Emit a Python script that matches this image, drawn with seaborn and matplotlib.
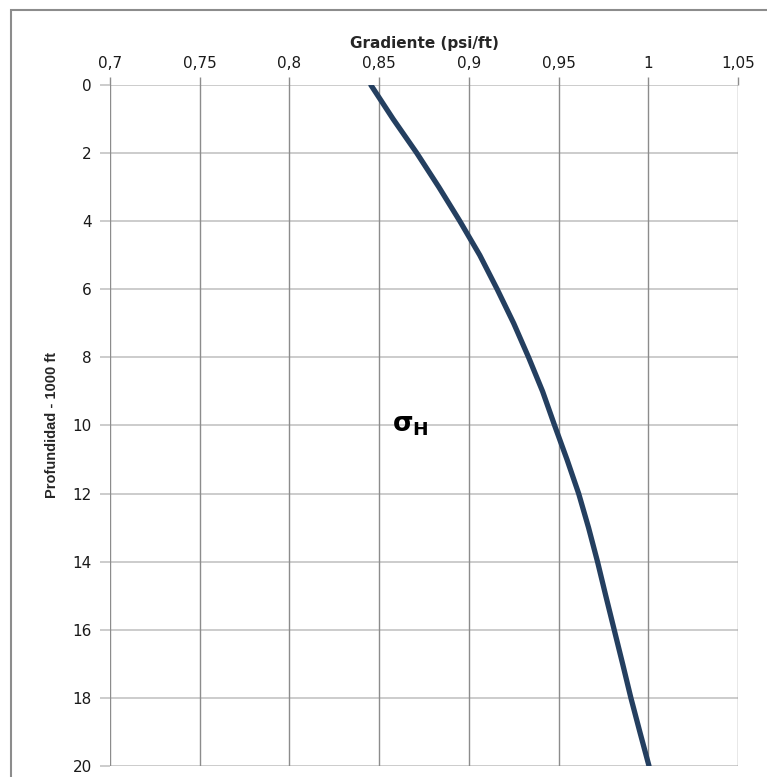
import numpy as np
import pandas as pd
import matplotlib
matplotlib.use('Agg')
import matplotlib.pyplot as plt
import matplotlib.patches as patches
from matplotlib.ticker import FuncFormatter
import seaborn as sns

# data (depth in 1000 ft, gradient in psi/ft)
depth = [0, 1, 2, 3, 4, 5, 6, 7, 8, 9, 10, 11, 12, 13, 14, 15, 16, 17, 18, 19, 20]
gradient = [0.8454, 0.8578, 0.8710, 0.8833, 0.8950, 0.9061, 0.9158, 0.9250, 0.9333,
            0.9411, 0.9478, 0.9547, 0.9612, 0.9667, 0.9717, 0.9763, 0.9810, 0.9857,
            0.9903, 0.9953, 1.0004]
x_ticks = [0.7, 0.75, 0.8, 0.85, 0.9, 0.95, 1.0, 1.05]
y_ticks = [0, 2, 4, 6, 8, 10, 12, 14, 16, 18, 20]

sns.set_style('white')
plt.rcParams['font.family'] = ['DejaVu Sans']
plt.rcParams['mathtext.fontset'] = 'dejavusans'

df = pd.DataFrame({'Gradiente': gradient, 'Profundidad': depth})

fig = plt.figure(figsize=(7.67, 7.77), dpi=100)
ax = fig.add_axes([0.1434, 0.0142, 0.8188, 0.8764])

sns.lineplot(data=df, x='Gradiente', y='Profundidad', sort=False, estimator=None,
             color='#243f60', linewidth=3.8, ax=ax)
for ln in ax.lines:
    ln.set_solid_joinstyle('round')

ax.set_xlim(0.7, 1.05)
ax.set_ylim(20, 0)
ax.set_xticks(x_ticks)
ax.set_yticks(y_ticks)
ax.xaxis.set_major_formatter(FuncFormatter(lambda v, p: ('%g' % round(v, 2)).replace('.', ',')))
ax.xaxis.tick_top()
ax.xaxis.set_label_position('top')

# gridlines: vertical darker, horizontal lighter
for yv in y_ticks:
    ax.axhline(yv, color='#c4c4c4', lw=1.2, zorder=0)
for xv in x_ticks:
    ax.axvline(xv, color='#8c8c8c', lw=1, zorder=0.5)

for s in ax.spines.values():
    s.set_visible(False)

ax.tick_params(axis='x', which='major', top=True, bottom=False, length=6, width=1,
               color='#8c8c8c', labelsize=11, labelcolor='#1a1a1a', pad=4)
ax.tick_params(axis='y', which='major', left=True, length=7, width=1.2,
               color='#c4c4c4', labelsize=11, labelcolor='#1a1a1a', pad=6)

ax.set_xlabel('Gradiente (psi/ft)', fontsize=11, fontweight='bold', labelpad=6)
ax.set_ylabel('Profundidad - 1000 ft', fontsize=10.5, fontweight='bold',
              family=['Liberation Sans Narrow', 'Liberation Sans'], labelpad=10)

ax.text(0.857, 10.0, r'$\mathbf{\sigma}_{\mathbf{H}}$', fontsize=19, ha='left', va='center',
        color='black')

# outer chart frame
frame = patches.Rectangle((0.0143, -0.2), 1.5, 0.987 + 0.2, transform=fig.transFigure,
                          fill=False, edgecolor='#8c8c8c', lw=1.5, clip_on=False)
fig.patches.append(frame)

fig.savefig('out.png', dpi=100)
